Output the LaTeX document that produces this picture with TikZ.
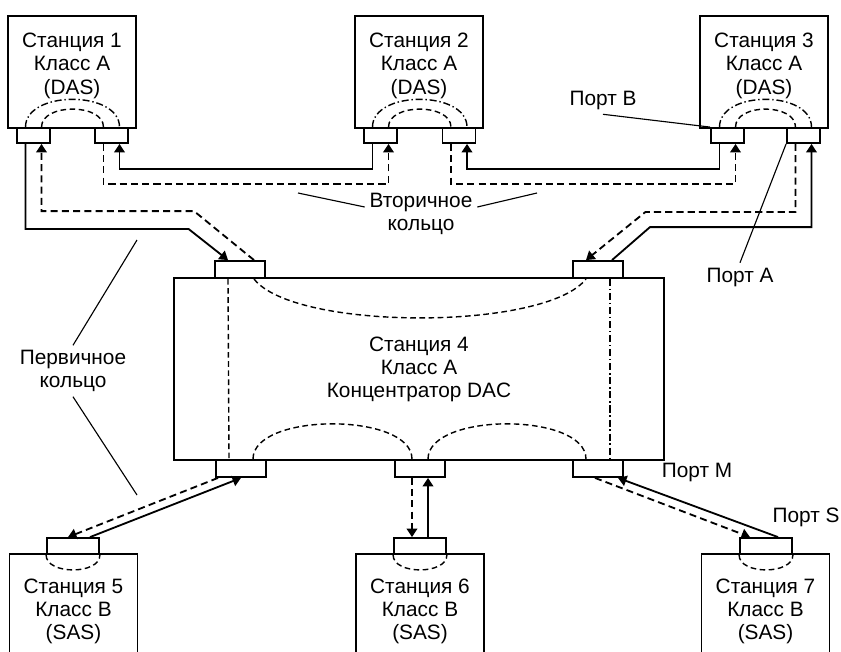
\documentclass[tikz,border=0pt]{standalone}
\usepackage{fontspec}
\setmainfont{Liberation Sans}
\usetikzlibrary{positioning}
\usetikzlibrary{arrows.meta}

\newcommand{\stfont}{\fontsize{14.8}{16.4}\selectfont}

\begin{document}
\begin{tikzpicture}[x=0.025cm, y=-0.025cm,
    station/.style={draw, line width=1.3pt, minimum width=3.2cm, minimum height=2.8cm},
    sasstation/.style={station, minimum height=3cm},
    hub/.style={draw, line width=1.3pt, minimum width=12.25cm, minimum height=4.55cm, align=center, font=\stfont},
    port/.style={draw, fill=white, line width=1.3pt, inner sep=0pt, minimum width=0.825cm, minimum height=0.375cm},
    hubport/.style={port, minimum width=1.25cm, minimum height=0.425cm},
    sasport/.style={port, minimum width=1.3cm, minimum height=0.4cm},
    sttext/.style={inner sep=0pt, align=center, font=\stfont},
    lbl/.style={align=center, font=\stfont},
    prim/.style={line width=1.3pt, -{Triangle[length=6pt,width=7.5pt]}},
    sec/.style={prim, dash pattern=on 5pt off 3pt},
    inner/.style={line width=1pt, dash pattern=on 4pt off 2.5pt},
    innerdd/.style={line width=1pt, dash pattern=on 5pt off 2pt on 1pt off 2pt},
    lead/.style={line width=0.8pt}]

    \useasboundingbox (0,0) rectangle (841,651);
    \clip (0,0) rectangle (841,651);

    % stations of class A
    \node[station] (st1) at (72,72) {};
    \node[sttext, below=0.45cm of st1.north] (st1t) {Станция 1\\Класс A\\(DAS)};
    \node[station] (st2) at (419,72) {};
    \node[sttext, below=0.45cm of st2.north] (st2t) {Станция 2\\Класс A\\(DAS)};
    \node[station] (st3) at (764,72) {};
    \node[sttext, below=0.45cm of st3.north] (st3t) {Станция 3\\Класс A\\(DAS)};
    \node[hub] (st4) at (419,369) {Станция 4\\Класс A\\Концентратор DAC};

    % stations of class B
    \node[sasstation] (st5) at (73.5,614) {};
    \node[sttext, below=0.64cm of st5.north] (st5t) {Станция 5\\Класс B\\(SAS)};
    \node[sasstation] (st6) at (420,614) {};
    \node[sttext, below=0.64cm of st6.north] (st6t) {Станция 6\\Класс B\\(SAS)};
    \node[sasstation] (st7) at (765.5,614) {};
    \node[sttext, below=0.64cm of st7.north] (st7t) {Станция 7\\Класс B\\(SAS)};

    % ports
    \node[port] (p1a) at (33.5,135.5) {};
    \node[port] (p1b) at (111.5,135.5) {};
    \node[port] (p2a) at (380.5,135.5) {};
    \node[port] (p2b) at (459,135.5) {};
    \node[port] (p3a) at (727.5,135.5) {};
    \node[port] (p3b) at (803.5,135.5) {};
    \node[hubport] (p4a) at (240,269.5) {};
    \node[hubport] (p4b) at (598,269.5) {};
    \node[hubport] (p4c) at (241,468.5) {};
    \node[hubport] (p4d) at (420,468.5) {};
    \node[hubport] (p4e) at (598,468.5) {};
    \node[sasport] (p5) at (73,546) {};
    \node[sasport] (p6) at (420,546) {};
    \node[sasport] (p7) at (766,546) {};

    % paths inside the stations
    \draw[innerdd] ([xshift=-.2cm]p1a.north) .. controls +(0,-37) and +(0,-37) .. ([xshift=.2cm]p1b.north);
    \draw[inner] ([xshift=.2cm]p1a.north) .. controls +(0,-24) and +(0,-24) .. ([xshift=-.2cm]p1b.north);
    \draw[innerdd] ([xshift=-.2cm]p2a.north) .. controls +(0,-37) and +(0,-37) .. ([xshift=.2cm]p2b.north);
    \draw[inner] ([xshift=.2cm]p2a.north) .. controls +(0,-24) and +(0,-24) .. ([xshift=-.2cm]p2b.north);
    \draw[innerdd] ([xshift=-.2cm]p3a.north) .. controls +(0,-37) and +(0,-37) .. ([xshift=.2cm]p3b.north);
    \draw[inner] ([xshift=.2cm]p3a.north) .. controls +(0,-24) and +(0,-24) .. ([xshift=-.2cm]p3b.north);
    \draw[inner] ([xshift=-.3cm]p4a.south) -- ([xshift=-.3cm]p4c.north);
    \draw[innerdd] ([xshift=.3cm]p4b.south) -- ([xshift=.3cm]p4e.north);
    \draw[inner] ([xshift=.35cm]p4a.south) .. controls +(40,52) and +(-40,52) .. ([xshift=-.3cm]p4b.south);
    \draw[inner] ([xshift=.3cm]p4c.north) .. controls +(0,-47) and +(0,-47) .. ([xshift=-.2cm]p4d.north);
    \draw[inner] ([xshift=.2cm]p4d.north) .. controls +(0,-47) and +(0,-47) .. ([xshift=-.3cm]p4e.north);
    \draw[inner] (p5.south west) .. controls +(0,20) and +(0,20) .. (p5.south east);
    \draw[inner] (p6.south west) .. controls +(0,20) and +(0,20) .. (p6.south east);
    \draw[inner] (p7.south west) .. controls +(0,20) and +(0,20) .. (p7.south east);

    % rings between stations 1, 2 and 3
    \draw[prim] ([xshift=-.2cm]p2a.south) -- ++(0,25) -| ([xshift=.2cm]p1b.south);
    \draw[sec] ([xshift=-.2cm]p1b.south) -- ++(0,40) -| ([xshift=.2cm]p2a.south);
    \draw[prim] ([xshift=-.2cm]p3a.south) -- ++(0,25) -| ([xshift=.2cm]p2b.south);
    \draw[sec] ([xshift=-.2cm]p2b.south) -- ++(0,40) -| ([xshift=.2cm]p3a.south);

    % rings to the concentrator
    \draw[prim] ([xshift=-.2cm]p1a.south) -- ++(0,85) -- ++(163,0) -- ([xshift=-.3cm]p4a.north);
    \draw[sec] ([xshift=.35cm]p4a.north) -- ++(-60,-49) -| ([xshift=.2cm]p1a.south);
    \draw[sec] ([xshift=-.2cm]p3b.south) -- ++(0,68) -- ++(-150,0) -- ([xshift=-.3cm]p4b.north);
    \draw[prim] ([xshift=.35cm]p4b.north) -- ++(38,-33) -| ([xshift=.2cm]p3b.south);

    % links M - S
    \draw[sec] ([xshift=-.575cm]p4c.south) -- ([xshift=-.125cm]p5.north);
    \draw[prim] ([xshift=.425cm]p5.north) -- (p4c.south);
    \draw[sec] ([xshift=-.2cm]p4d.south) -- ([xshift=-.2cm]p6.north);
    \draw[prim] ([xshift=.2cm]p6.north) -- ([xshift=.2cm]p4d.south);
    \draw[sec] ([xshift=-.075cm]p4e.south) -- ([xshift=-.4cm]p7.north);
    \draw[prim] ([xshift=.3cm]p7.north) -- ([xshift=.5cm]p4e.south);

    % labels
    \node[lbl] (lbB) at (603,100) {Порт B};
    \node[lbl] (lbA) at (740,277) {Порт A};
    \node[lbl] (lbM) at (697,472) {Порт M};
    \node[lbl] (lbS) at (806,517) {Порт S};
    \node[lbl] (lbsec) at (421,214) {Вторичное\\кольцо};
    \node[lbl] (lbprim) at (73,371) {Первичное\\кольцо};

    \coordinate (sec1) at (298,193);
    \coordinate (sec2) at (537,193);
    \coordinate (prim1) at (137,240);
    \coordinate (prim2) at (137,495);
    \draw[lead] (lbB.south) -- (p3a.north west);
    \draw[lead] (lbA.north) -- (p3b.south west);
    \draw[lead] ([yshift=.175cm]lbsec.west) -- (sec1);
    \draw[lead] ([yshift=.175cm]lbsec.east) -- (sec2);
    \draw[lead] (lbprim.north) -- (prim1);
    \draw[lead] (lbprim.south) -- (prim2);
\end{tikzpicture}
\end{document}
